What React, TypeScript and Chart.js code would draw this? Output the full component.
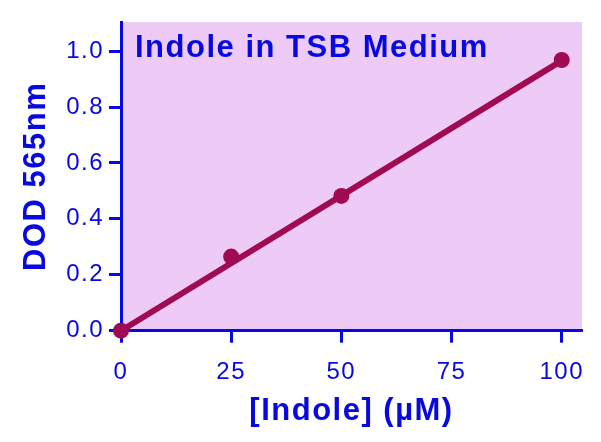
import React, { useEffect, useRef } from "react";
import { Chart, registerables } from "chart.js";

Chart.register(...registerables);

const concentrations = [0, 25, 50, 100];
const dodValues = [0, 0.265, 0.482, 0.968];
const fitX = [0, 100];
const fitY = [0, 0.966];
const xTicks = [0, 25, 50, 75, 100];
const yTicks = [0, 0.2, 0.4, 0.6, 0.8, 1.0];

const BLUE = "#0808e0";
const MAROON = "#a00a52";
const BG = "#eecbf7";
const LS = "1.5px";

const setSpacing = (chart: any) => {
  (chart.ctx as any).letterSpacing = LS;
};

const plotPlugin = {
  id: "plotDecor",
  beforeLayout(chart: any) {
    setSpacing(chart);
  },
  beforeDraw(chart: any) {
    setSpacing(chart);
    const { ctx, chartArea } = chart;
    ctx.save();
    ctx.fillStyle = BG;
    ctx.fillRect(chartArea.left, chartArea.top, chartArea.right - chartArea.left, chartArea.bottom - chartArea.top);
    ctx.restore();
  },
  beforeDatasetsDraw(chart: any) {
    const { ctx, chartArea } = chart;
    ctx.save();
    (ctx as any).letterSpacing = LS;
    ctx.fillStyle = BLUE;
    ctx.font = "bold 31px 'Liberation Sans', Arial, sans-serif";
    ctx.textAlign = "left";
    ctx.textBaseline = "alphabetic";
    ctx.fillText("Indole in TSB Medium", chartArea.left + 14, chartArea.top + 34.5);
    ctx.restore();
  },
};

export default function App() {
  const ref = useRef<HTMLCanvasElement | null>(null);
  useEffect(() => {
    document.body.style.margin = "0";
    const canvas = ref.current;
    if (!canvas) return;
    const chart = new Chart(canvas, {
      type: "scatter",
      data: {
        datasets: [
          {
            type: "line",
            data: fitX.map((x, i) => ({ x, y: fitY[i] })),
            borderColor: MAROON,
            borderWidth: 6,
            pointRadius: 0,
            fill: false,
            clip: false as any,
            order: 2,
          },
          {
            data: concentrations.map((x, i) => ({ x, y: dodValues[i] })),
            backgroundColor: MAROON,
            borderColor: MAROON,
            pointRadius: 8,
            pointBorderWidth: 0,
            clip: false as any,
            order: 1,
          },
        ],
      },
      options: {
        responsive: false,
        animation: false,
        devicePixelRatio: 1,
        layout: { padding: { top: 22, right: 19, left: 0, bottom: 0 } },
        plugins: { legend: { display: false }, tooltip: { enabled: false }, title: { display: false } },
        scales: {
          x: {
            type: "linear",
            min: 0,
            max: 104.6,
            z: 1,
            afterBuildTicks: (s: any) => {
              s.ticks = xTicks.map((v) => ({ value: v }));
            },
            afterFit: (s: any) => {
              s.height = 111.3;
            },
            border: { display: true, color: BLUE, width: 3 },
            grid: { drawOnChartArea: false, drawTicks: true, tickLength: 12, tickWidth: 3, tickColor: BLUE },
            ticks: {
              color: BLUE,
              padding: 15,
              font: { family: "'Liberation Sans', Arial, sans-serif", size: 24 },
              callback: (v: any) => String(v),
            },
            title: {
              display: true,
              text: "[Indole] (µM)",
              color: BLUE,
              font: { family: "'Liberation Sans', Arial, sans-serif", size: 31, weight: "bold" },
              padding: { top: 0, bottom: 12 },
            },
          },
          y: {
            type: "linear",
            min: 0,
            max: 1.104,
            z: 1,
            afterBuildTicks: (s: any) => {
              s.ticks = yTicks.map((v) => ({ value: v }));
            },
            afterFit: (s: any) => {
              s.width = 121;
            },
            border: { display: true, color: BLUE, width: 3 },
            grid: { drawOnChartArea: false, drawTicks: true, tickLength: 12, tickWidth: 3, tickColor: BLUE },
            ticks: {
              color: BLUE,
              padding: 5,
              font: { family: "'Liberation Sans', Arial, sans-serif", size: 24 },
              callback: (v: any) => Number(v).toFixed(1),
            },
            title: {
              display: true,
              text: "DOD 565nm",
              color: BLUE,
              font: { family: "'Liberation Sans', Arial, sans-serif", size: 31, weight: "bold" },
              padding: { top: 18, bottom: 0 },
            },
          },
        },
      },
      plugins: [plotPlugin],
    });
    return () => chart.destroy();
  }, []);
  return (
    <div style={{ position: "absolute", left: 0, top: 0, width: 601, height: 442 }}>
      <canvas ref={ref} width={601} height={442} style={{ width: 601, height: 442, display: "block" }} />
    </div>
  );
}
